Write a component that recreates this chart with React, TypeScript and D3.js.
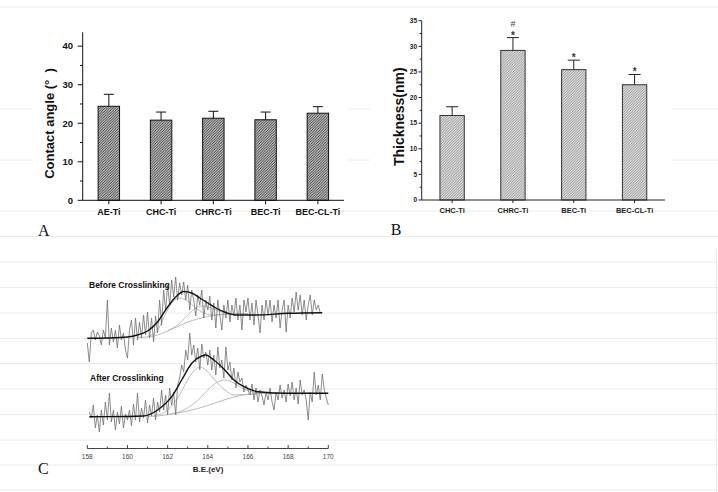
import React from 'react';
import * as d3 from 'd3';

// ---------- Panel A: contact angle ----------
const catsA = ['AE-Ti', 'CHC-Ti', 'CHRC-Ti', 'BEC-Ti', 'BEC-CL-Ti'];
const meanA = [24.4, 20.8, 21.3, 20.9, 22.6];
const errA = [3.1, 2.1, 1.8, 2.0, 1.7];

// ---------- Panel B: thickness ----------
const catsB = ['CHC-Ti', 'CHRC-Ti', 'BEC-Ti', 'BEC-CL-Ti'];
const meanB = [16.5, 29.2, 25.45, 22.5];
const errB = [1.7, 2.5, 1.85, 2.0];
const starB = ['', '*', '*', '*'];
const hashB = ['', '#', '', ''];

// ---------- Panel C: XPS S2p spectra ----------
const beforeStart = 158.0;
const afterStart = 158.1;
const stepEV = 0.1;
const beforeRaw = [
  97, 78, 107, 110, 100, 108, 104, 95, 110, 102,
  140, 95, 112, 98, 110, 92, 115, 100, 107, 90,
  82, 110, 120, 95, 122, 100, 118, 102, 125, 105,
  128, 102, 122, 98, 124, 107, 140, 115, 150, 130,
  155, 135, 160, 143, 163, 140, 157, 145, 158, 140,
  155, 130, 150, 140, 124, 145, 135, 150, 122, 140,
  130, 144, 120, 137, 112, 140, 125, 110, 135, 122,
  140, 118, 135, 124, 142, 120, 135, 110, 140, 128,
  142, 120, 137, 115, 140, 125, 107, 135, 120, 140,
  125, 140, 118, 135, 122, 140, 112, 130, 140, 108,
  135, 122, 142, 128, 148, 130, 145, 125, 140, 120,
  135, 145, 125, 140, 130, 135, 127,
];
const afterRaw = [
  28, 22, 35, 12, 25, 8, 30, 15, 38, 20,
  47, 18, 30, 10, 28, 16, 34, 12, 26, 20,
  30, 14, 36, 20, 47, 18, 32, 22, 40, 17,
  35, 24, 42, 20, 38, 28, 50, 30, 45, 25,
  52, 35, 48, 25, 55, 62, 75, 68, 90, 80,
  107, 85, 95, 78, 92, 70, 96, 82, 88, 75,
  90, 70, 85, 65, 93, 72, 80, 62, 93, 70,
  78, 60, 72, 52, 68, 58, 62, 48, 55, 50,
  45, 56, 40, 52, 38, 50, 44, 35, 48, 40,
  52, 38, 30, 48, 40, 55, 42, 50, 38, 56,
  44, 58, 40, 52, 36, 60, 45, 50, 40, 20,
  48, 38, 68, 45, 55, 40, 66, 50, 42, 35,
];
const beforeFit: [number, number][] = [[158, 101.7], [159, 102], [160, 103], [160.5, 105], [161, 109], [161.5, 118], [162, 133], [162.4, 143], [162.8, 148.5], [163.2, 147], [163.6, 142], [164, 137], [164.4, 132], [164.9, 127.5], [165.4, 125], [166.4, 125], [168, 126.7], [169.7, 127.3]];
const beforeBg: [number, number][] = [[160.5, 102.5], [161, 103], [161.5, 105], [162, 109], [162.5, 113.5], [163, 118], [163.5, 121], [164, 123.5], [164.5, 125], [165, 126], [166, 126.5]];
const beforeP1: [number, number][] = [[161, 103.5], [161.5, 110], [162, 130], [162.3, 139], [162.6, 142], [163, 139], [163.4, 132], [163.8, 127], [164.2, 125], [164.6, 125.5], [165, 126], [166, 126.5]];
const beforeP2: [number, number][] = [[162, 109.5], [162.5, 115], [163, 125], [163.4, 132], [163.7, 134], [164, 133], [164.4, 130], [164.8, 127.5], [165.3, 126.3], [166, 126.5]];
const afterFit: [number, number][] = [[158.1, 23.3], [160, 23.5], [160.8, 24], [161.5, 30], [162.2, 43.3], [162.7, 60], [163.2, 76.7], [163.7, 84], [163.9, 85], [164.3, 80], [164.85, 70], [165.3, 60], [165.8, 53.3], [166.5, 48.3], [168, 46.7], [170, 46.7]];
const afterBg: [number, number][] = [[161, 23.5], [161.5, 24], [162.5, 27], [163.5, 31.5], [164, 34.5], [164.8, 40], [165.5, 44], [166.5, 46.3], [167.5, 46.7]];
const afterP1: [number, number][] = [[161.3, 24], [162, 30], [162.5, 42], [163, 60], [163.3, 69], [163.6, 73], [163.9, 70], [164.3, 61], [164.85, 50], [165.3, 45], [165.8, 45.5], [166.5, 46.3]];
const afterP2: [number, number][] = [[162, 25.5], [162.8, 30], [163.4, 38], [164, 50], [164.4, 57], [164.85, 60], [165.3, 57], [165.8, 51], [166.3, 48], [167, 47]];
const labelBefore = 'Before Crosslinking';
const labelAfter = 'After Crosslinking';

const SANS = "'Liberation Sans', Arial, sans-serif";
const SERIF = "'Liberation Serif', 'Times New Roman', serif";

export default function App() {
  const W = 718, H = 492;

  // Panel A scales
  const xA = d3.scaleBand<string>().domain(catsA).range([82.7, 344]).paddingInner(0.59).paddingOuter(0.295);
  const yA = d3.scaleLinear().domain([0, 43.6]).range([200.3, 32.3]);
  const yAMajor = yA.ticks(5);
  const yAMinor = d3.range(5, 40, 10);

  // Panel B scales
  const xB = d3.scaleBand<string>().domain(catsB).range([421.7, 665]).paddingInner(0.6).paddingOuter(0.3);
  const yB = d3.scaleLinear().domain([0, 35]).range([200, 20.7]);
  const yBMajor = yB.ticks(8);
  const yBMinor = d3.range(2.5, 35, 5);

  // Panel C scales
  const xC = d3.scaleLinear().domain([158, 170]).range([87.3, 328.3]);
  const yC = d3.scaleLinear().domain([0, 170]).range([440, 270]);
  const xCMajor = xC.ticks(6);
  const xCMinor = d3.range(159, 170, 2);
  const axisCY = 448.5;

  const rawLine = (start: number) =>
    d3.line<number>().x((_, i) => xC(start + i * stepEV)).y((v) => yC(v));
  const fitLine = d3.line<[number, number]>().x((d) => xC(d[0])).y((d) => yC(d[1])).curve(d3.curveMonotoneX);

  const bgLines = [7, 109, 160, 211, 236.5, 262, 287.5, 313, 338.5, 363.5, 389, 414.5, 440, 465, 490];

  return (
    <svg width={W} height={H} viewBox={`0 0 ${W} ${H}`} style={{ position: 'absolute', left: 0, top: 0, background: '#fff' }}>
      <defs>
        <pattern id="hatchA" patternUnits="userSpaceOnUse" width="2.6" height="2.6">
          <rect width="2.6" height="2.6" fill="#fff" />
          <path d="M-1,1 l2,-2 M0,2.6 l2.6,-2.6 M1.6,3.6 l2,-2" stroke="#2a2a2a" strokeWidth="1.05" />
        </pattern>
        <pattern id="hatchB" patternUnits="userSpaceOnUse" width="2.6" height="2.6">
          <rect width="2.6" height="2.6" fill="#fff" />
          <path d="M-1,1 l2,-2 M0,2.6 l2.6,-2.6 M1.6,3.6 l2,-2" stroke="#8a8a8a" strokeWidth="1" />
        </pattern>
      </defs>
      <rect x={0} y={0} width={W} height={H} fill="#fff" />
      {/* faint page lines */}
      {bgLines.map((y) => (
        <line key={y} x1={0} x2={W} y1={y} y2={y} stroke="#ececec" strokeWidth={1} />
      ))}
      <line x1={716.5} x2={716.5} y1={250} y2={H} stroke="#ececec" />
      {/* white panel areas */}
      <rect x={83} y={14} width={265} height={100} fill="#fff" />
      <rect x={32} y={100} width={316} height={106} fill="#fff" />
      <rect x={370} y={14} width={302} height={192} fill="#fff" />

      {/* ===== Panel A ===== */}
      <g fontFamily={SANS}>
        {catsA.map((c, i) => {
          const x0 = xA(c)!;
          const bw = xA.bandwidth();
          const cx = x0 + bw / 2;
          return (
            <g key={c}>
              <rect x={x0} y={yA(meanA[i])} width={bw} height={yA(0) - yA(meanA[i])} fill="url(#hatchA)" stroke="#111" strokeWidth={1} />
              <line x1={cx} x2={cx} y1={yA(meanA[i])} y2={yA(meanA[i] + errA[i])} stroke="#111" strokeWidth={1} />
              <line x1={cx - 5} x2={cx + 5} y1={yA(meanA[i] + errA[i])} y2={yA(meanA[i] + errA[i])} stroke="#111" strokeWidth={1} />
              <line x1={cx} x2={cx} y1={yA(0)} y2={yA(0) + 4} stroke="#111" strokeWidth={1} />
              <text x={cx} y={215} fontSize={9} fontWeight="bold" textAnchor="middle" fill="#111">{c}</text>
            </g>
          );
        })}
        <line x1={82.7} x2={82.7} y1={yA(0)} y2={yA(43.6)} stroke="#111" strokeWidth={1} />
        <line x1={82.7} x2={344} y1={yA(0)} y2={yA(0)} stroke="#111" strokeWidth={1} />
        {yAMajor.map((t) => (
          <g key={t}>
            <line x1={77.7} x2={82.7} y1={yA(t)} y2={yA(t)} stroke="#111" strokeWidth={1} />
            <text x={73} y={yA(t)} dy="0.35em" fontSize={9.5} fontWeight="bold" textAnchor="end" fill="#111">{t}</text>
          </g>
        ))}
        {yAMinor.map((t) => (
          <line key={t} x1={80} x2={82.7} y1={yA(t)} y2={yA(t)} stroke="#111" strokeWidth={1} />
        ))}
        <text transform="translate(53.5,123.5) rotate(-90)" fontSize={13} fontWeight="bold" textAnchor="middle" fill="#111" style={{ whiteSpace: 'pre' }}>
          {'Contact angle (°  )'}
        </text>
      </g>
      <text x={38} y={235.5} fontFamily={SERIF} fontSize={16} fill="#111">A</text>

      {/* ===== Panel B ===== */}
      <g fontFamily={SANS}>
        {catsB.map((c, i) => {
          const x0 = xB(c)!;
          const bw = xB.bandwidth();
          const cx = x0 + bw / 2;
          const top = yB(meanB[i] + errB[i]);
          return (
            <g key={c}>
              <rect x={x0} y={yB(meanB[i])} width={bw} height={yB(0) - yB(meanB[i])} fill="url(#hatchB)" stroke="#333" strokeWidth={1} />
              <line x1={cx} x2={cx} y1={yB(meanB[i])} y2={top} stroke="#222" strokeWidth={1} />
              <line x1={cx - 6} x2={cx + 6} y1={top} y2={top} stroke="#222" strokeWidth={1} />
              <line x1={cx} x2={cx} y1={yB(0)} y2={yB(0) + 3} stroke="#222" strokeWidth={1} />
              {starB[i] && (
                <text x={cx} y={top + 1} fontSize={10} fontWeight="bold" textAnchor="middle" fill="#333">{starB[i]}</text>
              )}
              {hashB[i] && (
                <text x={cx} y={top - 11} fontSize={9} textAnchor="middle" fill="#444">{hashB[i]}</text>
              )}
              <text x={cx} y={212.5} fontSize={7.5} fontWeight="bold" textAnchor="middle" fill="#222">{c}</text>
            </g>
          );
        })}
        <line x1={421.7} x2={421.7} y1={yB(0)} y2={yB(35)} stroke="#222" strokeWidth={1} />
        <line x1={421.7} x2={665} y1={yB(0)} y2={yB(0)} stroke="#222" strokeWidth={1} />
        {yBMajor.map((t) => (
          <g key={t}>
            <line x1={418.5} x2={421.7} y1={yB(t)} y2={yB(t)} stroke="#222" strokeWidth={1} />
            <text x={417} y={yB(t)} dy="0.35em" fontSize={6.5} fontWeight="bold" textAnchor="end" fill="#222">{t}</text>
          </g>
        ))}
        {yBMinor.map((t) => (
          <line key={t} x1={419.7} x2={421.7} y1={yB(t)} y2={yB(t)} stroke="#222" strokeWidth={1} />
        ))}
        <text transform="translate(403.5,116.7) rotate(-90)" fontSize={14} fontWeight="bold" textAnchor="middle" fill="#111">
          Thickness(nm)
        </text>
      </g>
      <text x={390.7} y={235} fontFamily={SERIF} fontSize={16} fill="#111">B</text>

      {/* ===== Panel C ===== */}
      <g fontFamily={SANS}>
        {[beforeBg, beforeP1, beforeP2, afterBg, afterP1, afterP2].map((d, i) => (
          <path key={i} d={fitLine(d) || ''} fill="none" stroke="#b4b4b4" strokeWidth={0.9} />
        ))}
        <path d={rawLine(beforeStart)(beforeRaw) || ''} fill="none" stroke="#707070" strokeWidth={0.8} />
        <path d={rawLine(afterStart)(afterRaw) || ''} fill="none" stroke="#707070" strokeWidth={0.8} />
        <path d={fitLine(beforeFit) || ''} fill="none" stroke="#111" strokeWidth={1.4} />
        <path d={fitLine(afterFit) || ''} fill="none" stroke="#111" strokeWidth={1.4} />
        <text x={89} y={287.5} fontSize={8.5} fontWeight="bold" fill="#111">{labelBefore}</text>
        <text x={90} y={380.5} fontSize={8.5} fontWeight="bold" fill="#111">{labelAfter}</text>
        <line x1={xC(158)} x2={xC(170)} y1={axisCY} y2={axisCY} stroke="#444" strokeWidth={1} />
        {xCMajor.map((t) => (
          <g key={t}>
            <line x1={xC(t)} x2={xC(t)} y1={axisCY} y2={axisCY - 3.5} stroke="#444" strokeWidth={1} />
            <text x={xC(t)} y={458.5} fontSize={6.5} textAnchor="middle" fill="#444">{t}</text>
          </g>
        ))}
        {xCMinor.map((t) => (
          <line key={t} x1={xC(t)} x2={xC(t)} y1={axisCY} y2={axisCY - 2} stroke="#444" strokeWidth={1} />
        ))}
        <text x={208} y={471.5} fontSize={8} fontWeight="bold" textAnchor="middle" fill="#222">B.E.(eV)</text>
      </g>
      <text x={38} y={474} fontFamily={SERIF} fontSize={16} fill="#111">C</text>
    </svg>
  );
}
